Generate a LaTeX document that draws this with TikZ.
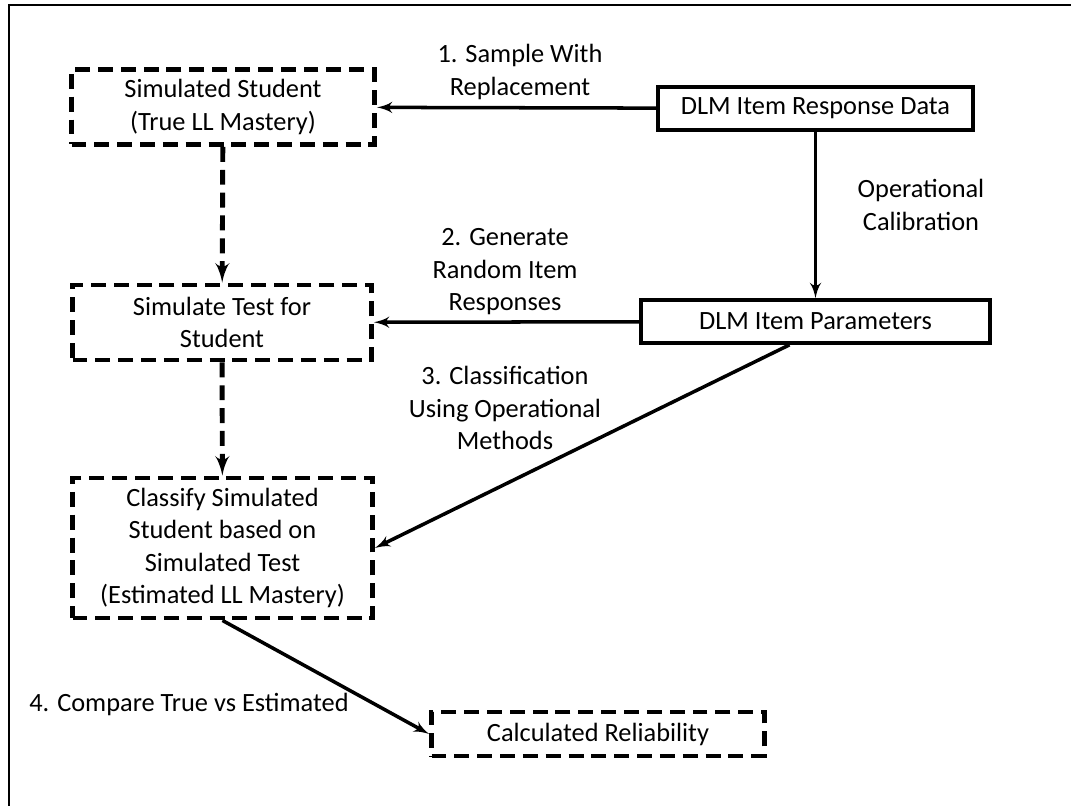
\documentclass[tikz,border=0pt]{standalone}
\usepackage{fontspec}
\setmainfont{Carlito}
\usetikzlibrary{arrows,positioning}

\begin{document}
\begin{tikzpicture}[auto, semithick,
font=\fontsize{15}{18.5}\selectfont,
dbox/.style={draw, line width=2.8pt, dash pattern=on 8.5pt off 4.5pt, align=center, inner sep=0pt},
sbox/.style={draw, line width=2.1pt, inner sep=0pt, minimum height=0.86cm},
edge/.style={->, >=latex', line width=2pt},
dedge/.style={edge, line width=2.8pt, dash pattern=on 8.5pt off 4.5pt},
lab/.style={align=center}]

\useasboundingbox (0,0) rectangle (21.42,-16.12);
\draw[line width=1.4pt] (0.18,-16.12) -- (0.18,-0.1) -- (21.42,-0.1);

\node[dbox, minimum width=6.06cm, minimum height=1.5cm] (Sim_S) at (4.46,-2.14) {Simulated Student\\(True LL Mastery)};
\node[dbox, minimum width=5.98cm, minimum height=1.5cm] (Sim_T) at (4.44,-6.45) {Simulate Test for\\Student};
\node[dbox, minimum width=6.0cm, minimum height=2.8cm] (Class) at (4.45,-10.96) {Classify Simulated\\Student based on\\Simulated Test\\(Estimated LL Mastery)};
\node[dbox, minimum width=6.66cm, minimum height=0.88cm] (Rel) at (11.96,-14.68) {Calculated Reliability};

\node[sbox, minimum width=6.3cm] (Resp) at (16.31,-2.17) {DLM Item Response Data};
\node[sbox, minimum width=6.98cm] (Par) at (16.31,-6.43) {DLM Item Parameters};

\node[lab] (L_1) at (10.4,-1.44) {1. Sample With\\Replacement};
\node[lab] (L_0) at (18.42,-4.1) {Operational\\Calibration};
\node[lab] (L_2) at (10.1,-5.44) {2. Generate\\Random Item\\Responses};
\node[lab] (L_3) at (10.1,-8.16) {3. Classification\\Using Operational\\Methods};
\node[lab] (L_4) at (3.78,-14.08) {4. Compare True vs Estimated};

\draw[edge] (Resp) -- (Sim_S);
\draw[edge] (Resp) -- (Par);
\draw[edge] (Par) -- (Sim_T);
\draw[edge] ([xshift=-0.52cm]Par.south) -- (Class.east);
\draw[edge] (Class.south) -- (Rel.west);

\draw[dedge] (Sim_S) -- (Sim_T);
\draw[dedge] (Sim_T) -- (Class);

\end{tikzpicture}
\end{document}
